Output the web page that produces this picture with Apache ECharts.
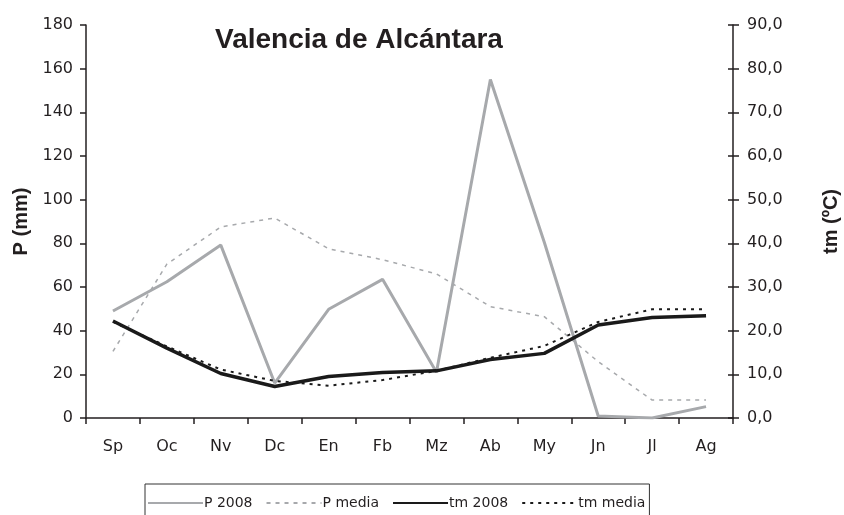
<!DOCTYPE html>
<html>
<head>
<meta charset="utf-8">
<script src="https://cdn.jsdelivr.net/npm/echarts@6/dist/echarts.min.js"></script>
<style>
html,body{margin:0;padding:0;background:#fff;}
#chart{width:844px;height:515px;}
</style>
</head>
<body>
<div id="chart"></div>
<script>
const categories = ['Sp','Oc','Nv','Dc','En','Fb','Mz','Ab','My','Jn','Jl','Ag'];
const p2008 = [49, 62.4, 79.2, 16, 49.8, 63.5, 21, 155, 80.5, 0.9, 0, 5.2];
const pMedia = [30.5, 70.5, 87.5, 91.6, 77.5, 72.5, 66, 51, 46.4, 25.8, 8.2, 8.2];
const tm2008 = [22.2, 16.0, 10.2, 7.2, 9.5, 10.4, 10.8, 13.4, 14.8, 21.3, 23.0, 23.4];
const tmMedia = [22.0, 16.4, 11.1, 8.5, 7.4, 8.7, 10.8, 13.8, 16.5, 22.0, 24.9, 24.9];
const pTicks = [0, 20, 40, 60, 80, 100, 120, 140, 160, 180];
const tmTicks = [0, 10, 20, 30, 40, 50, 60, 70, 80, 90];

const FONT = '"Liberation Sans", Arial, sans-serif';
const WIDE = '"DejaVu Sans", sans-serif';
const INK = '#231f20';
const chart = echarts.init(document.getElementById('chart'), null, {renderer: 'canvas'});
chart.setOption({
  animation: false,
  textStyle: {fontFamily: FONT, color: INK},
  title: {
    text: 'Valencia de Alcántara',
    left: 210, top: 21,
    textStyle: {fontFamily: FONT, fontSize: 28, fontWeight: 'bold', color: INK}
  },
  legend: {
    left: 145, top: 484,
    padding: [12, 4, 8, 2],
    borderColor: '#333', borderWidth: 1,
    itemGap: 13, itemWidth: 55, itemHeight: 10,
    itemStyle: {opacity: 0},
    textStyle: {fontFamily: WIDE, fontSize: 14, color: INK, padding: [0, 0, 0, -4]},
    data: ['P 2008', 'P media', 'tm 2008', 'tm media']
  },
  grid: {left: 86, right: 111, top: 25, bottom: 97, outerBoundsMode: 'none', containLabel: false},
  xAxis: {
    type: 'category', data: categories, boundaryGap: true,
    axisLine: {lineStyle: {color: INK, width: 1.5}},
    axisTick: {show: true, length: 6, lineStyle: {color: INK, width: 1.5}},
    axisLabel: {fontSize: 16, color: INK, margin: 21, fontFamily: WIDE}
  },
  yAxis: [
    {
      type: 'value', min: pTicks[0], max: pTicks[pTicks.length - 1], interval: 20, position: 'left',
      name: 'P (mm)', nameLocation: 'middle', nameGap: 55, nameRotate: 90,
      nameTextStyle: {fontSize: 20, fontWeight: 'bold', color: INK, fontFamily: FONT},
      axisLine: {show: true, lineStyle: {color: INK, width: 1.5}},
      axisTick: {show: true, length: 6, lineStyle: {color: INK, width: 1.5}},
      axisLabel: {fontSize: 16, color: INK, margin: 13, fontFamily: WIDE},
      splitLine: {show: false}
    },
    {
      type: 'value', min: tmTicks[0], max: tmTicks[tmTicks.length - 1], interval: 10, position: 'right',
      name: 'tm (ºC)', nameLocation: 'middle', nameGap: 88, nameRotate: 90,
      nameTextStyle: {fontSize: 20, fontWeight: 'bold', color: INK, fontFamily: FONT},
      axisLine: {show: true, lineStyle: {color: INK, width: 1.5}},
      axisTick: {show: true, length: 6, lineStyle: {color: INK, width: 1.5}},
      axisLabel: {fontSize: 16, color: INK, margin: 14, fontFamily: WIDE,
        formatter: v => v.toFixed(1).replace('.', ',')},
      splitLine: {show: false}
    },
    {
      type: 'value', min: tmTicks[0], max: tmTicks[tmTicks.length - 1], interval: 10, position: 'right',
      axisLine: {show: false},
      axisTick: {show: true, inside: true, length: 5, lineStyle: {color: INK, width: 1.5}},
      axisLabel: {show: false},
      splitLine: {show: false}
    }
  ],
  series: [
    {name: 'P 2008', type: 'line', yAxisIndex: 0, data: p2008, symbol: 'none',
     lineStyle: {color: '#a7a9ac', width: 3}, itemStyle: {color: '#a7a9ac'}, z: 2},
    {name: 'P media', type: 'line', yAxisIndex: 0, data: pMedia, symbol: 'none',
     lineStyle: {color: '#a7a9ac', width: 1.5, type: [4, 5]}, itemStyle: {color: '#a7a9ac'}, z: 1},
    {name: 'tm 2008', type: 'line', yAxisIndex: 1, data: tm2008, symbol: 'none',
     lineStyle: {color: '#1a1a1a', width: 3.5}, itemStyle: {color: '#1a1a1a'}, z: 4},
    {name: 'tm media', type: 'line', yAxisIndex: 1, data: tmMedia, symbol: 'none',
     lineStyle: {color: '#1a1a1a', width: 2, type: [3, 5]}, itemStyle: {color: '#1a1a1a'}, z: 3}
  ]
});
</script>
</body>
</html>
